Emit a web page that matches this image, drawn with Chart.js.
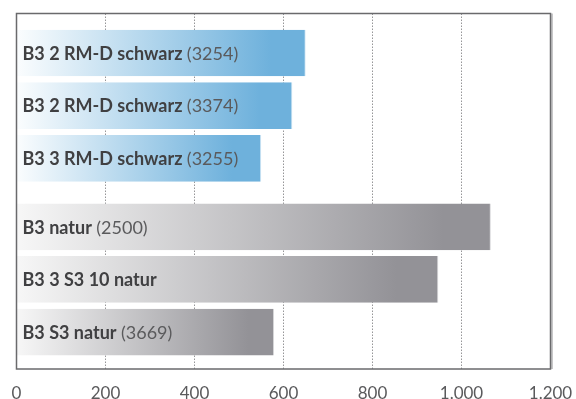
<!DOCTYPE html>
<html>
<head>
<meta charset="utf-8">
<script src="https://cdn.jsdelivr.net/npm/chart.js@4"></script>
<style>
  html, body { margin: 0; padding: 0; background: #ffffff; }
  #wrap { width: 576px; height: 399px; }
</style>
</head>
<body>
<div id="wrap"><canvas id="c" width="576" height="399"></canvas></div>
<script>
// Product names (bold part) and their article numbers (normal part)
const names = [
  'B3 2 RM-D schwarz',
  'B3 2 RM-D schwarz',
  'B3 3 RM-D schwarz',
  'B3 natur',
  'B3 3 S3 10 natur',
  'B3 S3 natur'
];
const notes = ['(3254)', '(3374)', '(3255)', '(2500)', '', '(3669)'];
// 0 = schwarz group (blue), 1 = natur group (grey)
const groups = [0, 0, 0, 1, 1, 1];
const values = [650, 620, 550, 1066, 948, 579];
const xTicks = [0, 200, 400, 600, 800, 1000, 1200];

const GROUP_GAP = 0.3;
const rows = values.map((v, i) => ({ x: v, y: i + groups[i] * GROUP_GAP }));

const gradStops = [
  [[0, '#fbfdfe'], [0.88, '#6eb1dc'], [1, '#6eb1dc']],
  [[0, '#f7f7f7'], [0.9, '#939297'], [1, '#939297']]
];
const edgeColors = ['#d6e9f6', '#dcdcde'];

function formatDE(n) {
  return String(n).replace(/\B(?=(\d{3})+(?!\d))/g, '.');
}

function barFill(ctx) {
  const chart = ctx.chart;
  const g = groups[ctx.dataIndex];
  if (!chart.chartArea || !chart.scales.x) return gradStops[g][1][1];
  const xs = chart.scales.x;
  const x0 = xs.getPixelForValue(0);
  const x1 = xs.getPixelForValue(values[ctx.dataIndex]);
  const grad = chart.ctx.createLinearGradient(x0, 0, x1, 0);
  gradStops[g].forEach(s => grad.addColorStop(s[0], s[1]));
  return grad;
}

const frame = {
  id: 'frame',
  afterDraw(chart) {
    const { ctx, chartArea: a } = chart;
    ctx.save();
    ctx.strokeStyle = '#b4b4b6';
    ctx.lineWidth = 1.5;
    ctx.beginPath();
    ctx.moveTo(a.right + 1.5, a.top);
    ctx.lineTo(a.right + 1.5, a.bottom);
    ctx.stroke();
    ctx.strokeStyle = '#6a6a6c';
    ctx.lineWidth = 1.5;
    ctx.strokeRect(a.left, a.top, a.right - a.left, a.bottom - a.top);
    ctx.restore();
  }
};

const barLabels = {
  id: 'barLabels',
  afterDatasetsDraw(chart) {
    const { ctx, chartArea: a } = chart;
    const meta = chart.getDatasetMeta(0);
    ctx.save();
    ctx.textBaseline = 'middle';
    meta.data.forEach((bar, i) => {
      let x = a.left + 6;
      const y = bar.y + 1;
      ctx.font = 'bold 18px Lato';
      ctx.fillStyle = '#404042';
      ctx.fillText(names[i], x, y);
      x += ctx.measureText(names[i] + ' ').width;
      if (notes[i]) {
        ctx.font = '18px Lato';
        ctx.fillStyle = '#5a5a5c';
        ctx.fillText(notes[i], x, y);
      }
    });
    ctx.restore();
  }
};

new Chart(document.getElementById('c'), {
  type: 'bar',
  data: {
    datasets: [{
      data: rows,
      backgroundColor: barFill,
      borderColor: ctx => edgeColors[groups[ctx.dataIndex]],
      borderWidth: { top: 0, right: 1, bottom: 0, left: 0 },
      borderSkipped: false,
      barPercentage: 0.887,
      categoryPercentage: 1
    }]
  },
  options: {
    indexAxis: 'y',
    responsive: false,
    animation: false,
    events: [],
    layout: { padding: { left: 16.5, right: 25.5, top: 13.5, bottom: 0 } },
    plugins: { legend: { display: false }, tooltip: { enabled: false } },
    scales: {
      x: {
        type: 'linear',
        min: 0,
        max: 1200,
        afterBuildTicks: s => { s.ticks = xTicks.map(v => ({ value: v })); },
        afterFit: s => { s.height = 30; s.paddingLeft = 0; s.paddingRight = 0; },
        grid: {
          color: ctx => (ctx.tick && (ctx.tick.value === 0 || ctx.tick.value === 1200)) ? 'rgba(0,0,0,0)' : '#969698',
          lineWidth: 1,
          drawTicks: false
        },
        border: { display: false, dash: [1.5, 1.5] },
        ticks: {
          padding: 14,
          color: '#5a5a5c',
          font: { family: 'Lato', size: 17 },
          callback: v => formatDE(v),
          maxRotation: 0
        }
      },
      y: {
        type: 'linear',
        reverse: true,
        offset: false,
        min: -0.75,
        max: 5 + GROUP_GAP + 0.7,
        afterBuildTicks: s => { s.ticks = []; },
        display: false
      }
    }
  },
  plugins: [frame, barLabels]
});
</script>
</body>
</html>
